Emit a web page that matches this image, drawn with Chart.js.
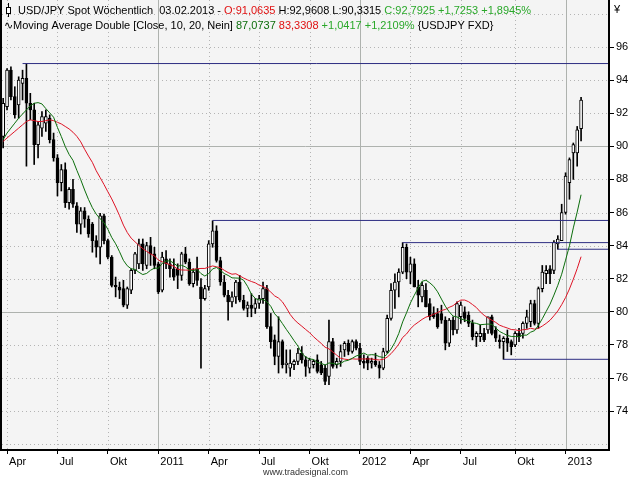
<!DOCTYPE html>
<html>
<head>
<meta charset="utf-8">
<script src="https://cdn.jsdelivr.net/npm/chart.js@4.4.0/dist/chart.umd.min.js"></script>
<style>
  html, body { margin: 0; padding: 0; background: #fff; }
</style>
</head>
<body>
<canvas id="canvas" width="640" height="480"></canvas>
<script>
// weekly bars, bar 0 = week ending 28.03.2010, last bar = 03.02.2013
var firstWeek = '2010-03-28';

var open = [
  90.6, 92.4, 94.6, 93.0, 92.5, 93.8, 94.1, 92.6, 92.2, 90.1,
  91.1, 91.4, 91.7, 90.4, 89.3, 87.8, 88.6, 86.6, 87.4, 86.4,
  85.3, 86.1, 85.6, 85.3, 84.3, 83.9, 85.8, 84.3, 83.3, 81.6,
  81.5, 81.4, 80.4, 81.3, 82.5, 82.9, 84.1, 82.8, 84.0, 83.5,
  82.9, 81.3, 83.2, 82.9, 82.6, 82.6, 82.2, 83.5, 83.0, 81.7,
  82.6, 81.5, 80.8, 81.5, 84.1, 84.9, 83.1, 81.8, 81.0, 80.6,
  80.9, 81.8, 80.7, 80.2, 80.4, 80.2, 80.5, 80.8, 81.4, 79.1,
  78.3, 77.3, 78.2, 76.8, 76.6, 76.8, 77.0, 77.5, 77.1, 76.6,
  76.8, 77.1, 76.8, 76.6, 76.1, 78.2, 76.8, 77.0, 77.7, 78.1,
  77.6, 78.2, 77.8, 77.0, 77.2, 76.9, 77.0, 76.8, 76.6, 77.6,
  79.6, 81.3, 81.8, 82.4, 83.9, 82.4, 82.9, 81.5, 80.9, 81.3,
  80.5, 79.9, 79.9, 79.9, 79.5, 78.1, 79.5, 78.9, 79.7, 80.0,
  79.8, 79.3, 78.5, 78.5, 78.7, 78.9, 79.7, 78.9, 78.3, 78.2,
  78.4, 78.2, 78.0, 78.7, 78.7, 79.3, 79.4, 80.5, 79.3, 81.4,
  82.3, 82.6, 82.5, 84.1, 84.3, 86.0, 87.8, 89.6, 89.6, 91.0635
];
var high = [
  92.9, 94.7, 94.8, 93.6, 94.2, 94.6, 94.99, 93.2, 92.6, 91.5,
  92.1, 92.2, 91.9, 90.8, 89.5, 88.9, 89.0, 87.5, 88.0, 86.6,
  86.3, 86.3, 85.8, 85.4, 84.6, 85.95, 85.9, 84.4, 83.4, 82.1,
  81.8, 81.9, 81.5, 82.6, 83.6, 84.4, 84.4, 84.2, 84.5, 83.9,
  83.0, 83.6, 83.7, 83.2, 83.2, 82.9, 83.6, 83.9, 83.2, 82.6,
  83.3, 82.0, 81.6, 84.3, 85.5, 85.2, 83.3, 82.2, 81.3, 81.2,
  81.9, 82.2, 81.0, 80.6, 81.1, 80.8, 81.0, 81.8, 81.6, 79.9,
  78.6, 79.7, 78.3, 77.7, 77.7, 77.1, 77.8, 77.9, 77.3, 77.2,
  77.1, 77.4, 77.0, 76.8, 79.5, 78.4, 77.2, 78.0, 78.2, 78.3,
  78.3, 78.3, 78.1, 77.4, 77.3, 77.2, 77.5, 77.0, 77.8, 79.8,
  81.7, 82.3, 82.6, 84.18, 84.1, 83.3, 83.2, 81.9, 81.8, 81.7,
  80.8, 80.3, 80.2, 80.4, 79.7, 79.6, 79.7, 80.6, 80.6, 80.3,
  80.0, 79.5, 78.8, 79.2, 79.0, 79.7, 79.8, 79.1, 78.6, 78.5,
  78.9, 78.3, 78.8, 79.0, 79.4, 80.1, 80.7, 80.7, 81.5, 82.8,
  82.8, 82.8, 84.3, 84.6, 86.5, 88.4, 89.3, 90.2, 91.2, 92.9608
];
var low = [
  89.9, 92.2, 92.8, 91.7, 91.7, 92.8, 88.8, 91.6, 88.9, 89.3,
  90.6, 90.9, 90.2, 89.1, 87.0, 87.3, 86.3, 86.2, 86.3, 84.8,
  84.7, 85.1, 84.5, 83.6, 83.3, 82.9, 84.1, 83.2, 81.5, 80.9,
  80.8, 80.3, 80.2, 81.1, 82.3, 82.6, 82.5, 82.6, 82.8, 82.6,
  81.1, 81.2, 82.6, 82.1, 81.9, 81.4, 81.9, 82.9, 81.6, 81.5,
  81.6, 76.6, 80.7, 81.3, 83.9, 83.0, 81.6, 80.9, 79.5, 80.3,
  80.5, 80.6, 80.1, 79.7, 79.7, 79.9, 80.2, 80.5, 79.0, 77.8,
  76.8, 76.3, 76.6, 76.3, 76.1, 76.5, 76.8, 76.9, 76.1, 76.3,
  76.6, 76.3, 76.2, 75.6, 75.6, 76.6, 76.6, 76.7, 77.3, 77.4,
  77.5, 77.7, 76.8, 76.6, 76.5, 76.6, 76.7, 76.0, 76.5, 77.5,
  79.5, 80.2, 80.9, 82.3, 82.0, 81.7, 81.5, 80.3, 80.6, 80.3,
  79.5, 79.6, 79.0, 79.3, 77.7, 77.9, 78.6, 78.7, 79.3, 79.4,
  79.1, 78.3, 77.9, 78.2, 78.2, 78.7, 78.6, 78.2, 77.8, 77.13,
  77.6, 77.4, 77.9, 78.2, 78.4, 79.0, 79.1, 79.2, 79.0, 81.2,
  81.7, 81.7, 82.3, 83.78, 84.3, 85.9, 86.8, 88.0, 88.8, 90.3315
];
var close = [
  92.6, 94.6, 93.0, 91.9, 94.0, 94.1, 92.6, 92.2, 90.1, 91.3,
  91.8, 91.8, 90.4, 89.3, 87.8, 88.6, 86.6, 87.4, 86.5, 85.3,
  86.1, 85.6, 84.7, 84.3, 83.9, 85.8, 84.3, 83.3, 81.6, 81.5,
  81.3, 80.4, 81.4, 82.5, 83.5, 84.1, 82.9, 84.0, 83.5, 82.8,
  81.2, 83.3, 82.9, 82.6, 82.1, 82.2, 83.5, 83.0, 81.7, 82.4,
  81.9, 80.8, 81.4, 84.1, 84.9, 83.1, 81.8, 81.0, 80.6, 80.9,
  81.8, 80.7, 80.2, 80.4, 80.2, 80.5, 80.8, 81.4, 79.1, 78.2,
  77.3, 78.2, 76.8, 76.9, 76.9, 77.0, 77.5, 77.1, 76.7, 77.1,
  77.0, 76.4, 76.3, 75.8, 78.2, 76.7, 77.0, 77.6, 78.1, 77.6,
  78.2, 77.8, 77.0, 76.9, 76.9, 77.0, 76.8, 76.6, 77.6, 79.6,
  81.3, 81.8, 82.4, 83.9, 82.4, 82.9, 81.5, 81.0, 81.6, 80.3,
  79.7, 79.7, 79.1, 79.5, 78.1, 79.5, 78.9, 80.5, 80.4, 79.6,
  79.3, 78.5, 78.7, 78.7, 78.3, 79.7, 78.7, 78.4, 78.2, 78.4,
  78.1, 77.9, 78.7, 78.5, 79.3, 79.7, 80.5, 79.3, 81.4, 82.4,
  82.5, 82.3, 84.2, 84.4, 86.0, 88.2, 89.2, 90.1, 91.0, 92.7925
];

// Moving Average Double [Close, 10, 20]
var ma10 = [
  90.4, 90.8, 91.1, 91.4, 91.7, 91.95, 92.2, 92.45, 92.6, 92.64,
  92.56, 92.28, 92.02, 91.76, 91.14, 90.59, 89.99, 89.51, 89.15, 88.55,
  87.98, 87.36, 86.79, 86.29, 85.90, 85.62, 85.39, 84.98, 84.49, 84.11,
  83.63, 83.11, 82.78, 82.60, 82.56, 82.39, 82.25, 82.32, 82.51, 82.64,
  82.63, 82.92, 83.07, 83.08, 82.94, 82.75, 82.81, 82.71, 82.53, 82.49,
  82.56, 82.31, 82.16, 82.31, 82.59, 82.68, 82.51, 82.31, 82.20, 82.05,
  82.04, 82.03, 81.91, 81.54, 81.07, 80.81, 80.71, 80.75, 80.60, 80.33,
  79.88, 79.63, 79.29, 78.94, 78.61, 78.26, 77.93, 77.50, 77.26, 77.15,
  77.12, 76.94, 76.89, 76.78, 76.91, 76.88, 76.83, 76.88, 77.02, 77.07,
  77.19, 77.33, 77.40, 77.51, 77.38, 77.41, 77.39, 77.29, 77.24, 77.44,
  77.75, 78.15, 78.69, 79.39, 79.94, 80.53, 81.00, 81.44, 81.84, 81.91,
  81.75, 81.54, 81.21, 80.77, 80.34, 80.00, 79.74, 79.69, 79.57, 79.50,
  79.46, 79.34, 79.30, 79.22, 79.24, 79.26, 79.24, 79.03, 78.81, 78.69,
  78.57, 78.51, 78.51, 78.49, 78.59, 78.59, 78.77, 78.86, 79.18, 79.58,
  80.02, 80.46, 81.01, 81.60, 82.27, 83.12, 83.99, 85.07, 86.03, 87.0737
];
var ma20 = [
  90.3, 90.5, 90.7, 90.9, 91.1, 91.3, 91.5, 91.6, 91.55, 91.5,
  91.5, 91.55, 91.6, 91.55, 91.45, 91.35, 91.2, 91.05, 90.85, 90.60,
  90.27, 89.82, 89.41, 89.03, 88.52, 88.11, 87.69, 87.25, 86.82, 86.33,
  85.81, 85.24, 84.79, 84.45, 84.23, 84.01, 83.82, 83.65, 83.50, 83.38,
  83.13, 83.02, 82.93, 82.84, 82.75, 82.57, 82.53, 82.52, 82.52, 82.57,
  82.60, 82.62, 82.62, 82.70, 82.77, 82.72, 82.66, 82.51, 82.37, 82.27,
  82.30, 82.17, 82.04, 81.93, 81.83, 81.75, 81.61, 81.53, 81.40, 81.19,
  80.96, 80.83, 80.60, 80.24, 79.84, 79.54, 79.32, 79.13, 78.93, 78.74,
  78.50, 78.29, 78.09, 77.86, 77.76, 77.57, 77.38, 77.19, 77.14, 77.11,
  77.16, 77.14, 77.15, 77.15, 77.15, 77.15, 77.11, 77.09, 77.13, 77.26,
  77.47, 77.74, 78.05, 78.45, 78.66, 78.97, 79.20, 79.37, 79.54, 79.68,
  79.75, 79.85, 79.95, 80.08, 80.14, 80.27, 80.37, 80.57, 80.71, 80.71,
  80.61, 80.44, 80.26, 80.00, 79.79, 79.63, 79.49, 79.36, 79.19, 79.10,
  79.02, 78.93, 78.91, 78.86, 78.92, 78.93, 79.01, 78.95, 79.00, 79.14,
  79.30, 79.49, 79.76, 80.05, 80.43, 80.86, 81.38, 81.97, 82.61, 83.3308
];

// support / resistance lines: level and the bar they start from
var levelValues = [95.0, 85.52, 84.18, 83.78, 77.13];
var levelStart = [5, 54, 103, 143, 129];

// x axis: first bar of each quarter
var tickBars = [1, 14, 27, 40, 53, 66, 79, 92, 105, 118, 132, 145];
var tickLabels = ['Apr', 'Jul', 'Okt', '2011', 'Apr', 'Jul', 'Okt', '2012', 'Apr', 'Jul', 'Okt', '2013'];
// labelled y ticks and the horizontal grid values
var yTicks = [74, 76, 78, 80, 82, 84, 86, 88, 90, 92, 94, 96];
var yGrid = [72, 74, 76, 78, 80, 82, 84, 86, 88, 90, 92, 94, 96, 98];

var FONT = "'Liberation Sans', Arial, sans-serif";

var wicks = [], bodies = [], bodyFill = [];
for (var i = 0; i < close.length; i++) {
    wicks.push({x: i, y: [low[i], high[i]]});
    bodies.push({x: i, y: [Math.min(open[i], close[i]), Math.max(open[i], close[i])]});
    bodyFill.push(close[i] >= open[i] ? '#ffffff' : '#000000');
}
var ma10Pts = ma10.map(function (v, i) { return {x: i, y: v}; });
var ma20Pts = ma20.map(function (v, i) { return {x: i, y: v}; });

var datasets = [
    {type: 'line', data: ma10Pts, borderColor: '#0c6e0c', borderWidth: 1, pointRadius: 0, order: 0},
    {type: 'line', data: ma20Pts, borderColor: '#de1426', borderWidth: 1, pointRadius: 0, order: 0},
    {type: 'bar', data: bodies, backgroundColor: bodyFill, borderColor: '#000', borderWidth: 1,
        barThickness: 3, grouped: false, order: 1, borderSkipped: false},
    {type: 'bar', data: wicks, backgroundColor: '#000', barThickness: 1, grouped: false, order: 2}
];
levelValues.forEach(function (v, k) {
    datasets.push({type: 'line', data: [{x: levelStart[k], y: v}, {x: 170, y: v}],
        borderColor: '#2d2d82', borderWidth: 1, pointRadius: 0, order: 0});
});

var bgPlugin = {
    id: 'bg',
    beforeDraw: function (chart) {
        var ctx = chart.ctx, a = chart.chartArea;
        ctx.save();
        ctx.fillStyle = '#ffffff';
        ctx.fillRect(0, 0, chart.width, chart.height);
        ctx.fillStyle = '#f4f4f4';
        ctx.fillRect(a.left, a.top, a.right - a.left, a.bottom - a.top);
        ctx.restore();
    }
};

var gridPlugin = {
    id: 'grid',
    beforeDatasetsDraw: function (chart) {
        var ctx = chart.ctx, a = chart.chartArea, x = chart.scales.x, y = chart.scales.y;
        ctx.save();
        ctx.lineWidth = 1;
        function style(solid) {
            if (solid) { ctx.setLineDash([]); ctx.strokeStyle = '#aeb2ae'; }
            else { ctx.setLineDash([1, 3]); ctx.strokeStyle = '#b4b4b4'; }
        }
        yGrid.forEach(function (v) {
            var py = Math.round(y.getPixelForValue(v)) + 0.5;
            style(v % 10 === 0);
            ctx.beginPath(); ctx.moveTo(a.left, py); ctx.lineTo(a.right, py); ctx.stroke();
        });
        x.ticks.forEach(function (t, k) {
            var px = Math.round(x.getPixelForValue(t.value)) + 0.5;
            style(tickLabels[k].length === 4);
            ctx.beginPath(); ctx.moveTo(px, a.top); ctx.lineTo(px, a.bottom); ctx.stroke();
        });
        ctx.restore();
    }
};

function drawSegments(ctx, x, y, segs) {
    segs.forEach(function (s) {
        ctx.fillStyle = s[1];
        ctx.fillText(s[0], x, y);
        x += ctx.measureText(s[0]).width;
    });
}

var frontPlugin = {
    id: 'front',
    afterDraw: function (chart) {
        var ctx = chart.ctx, a = chart.chartArea;
        ctx.save();
        // frame
        ctx.fillStyle = '#000';
        ctx.fillRect(0, 0, 2, a.bottom + 2);
        ctx.fillRect(a.right - 1, 0, 2, a.bottom + 2);
        ctx.fillRect(0, a.bottom, a.right + 1, 2);

        // legend lines
        ctx.font = '11px ' + FONT;
        ctx.textBaseline = 'alphabetic';
        var red = '#e01010', green = '#2aa82a', black = '#000';
        // candle icon
        ctx.strokeStyle = '#000'; ctx.lineWidth = 1;
        ctx.beginPath(); ctx.moveTo(8.5, 3); ctx.lineTo(8.5, 17); ctx.stroke();
        ctx.fillStyle = '#fff';
        ctx.fillRect(6.5, 7.5, 4, 6);
        ctx.strokeRect(6.5, 7.5, 4, 6);
        drawSegments(ctx, 18, 14, [
            ['USD/JPY Spot Wöchentlich  03.02.2013 - ', black],
            ['O:91,0635', red],
            [' H:92,9608 L:90,3315 ', black],
            ['C:92,7925 +1,7253 +1,8945%', green]
        ]);
        drawSegments(ctx, 4, 29, [
            ['∿', black],
            ['Moving Average Double [Close, 10, 20, Nein] ', black],
            ['87,0737', '#0c6e0c'],
            [' 83,3308', red],
            [' +1,0417 +1,2109%', green],
            [' {USDJPY FXD}', black]
        ]);
        ctx.fillStyle = '#000';
        ctx.fillText('¥', 614, 13);
        ctx.restore();
    }
};

var ctx = document.getElementById('canvas').getContext('2d');
new Chart(ctx, {
    type: 'bar',
    data: {datasets: datasets},
    options: {
        responsive: false,
        animation: false,
        events: [],
        layout: {padding: {left: 2, top: 0, right: 0, bottom: 0}},
        plugins: {legend: {display: false}, tooltip: {enabled: false}},
        scales: {
            x: {
                type: 'linear', min: -0.3, max: 156.2, offset: false,
                afterBuildTicks: function (s) { s.ticks = tickBars.map(function (v) { return {value: v}; }); },
                afterFit: function (s) { s.height = 31; s.paddingLeft = 0; s.paddingRight = 0; },
                grid: {offset: false, drawOnChartArea: false, drawTicks: true, tickLength: 5, tickColor: '#000', color: '#000'},
                border: {display: false},
                ticks: {
                    autoSkip: false, maxRotation: 0, align: 'start', labelOffset: 2, padding: 1,
                    color: '#000', font: {family: FONT, size: 11},
                    callback: function (v, k) { return tickLabels[k]; }
                },
                title: {display: true, text: 'www.tradesignal.com', color: '#333',
                    font: {family: FONT, size: 9}, padding: {top: 0, bottom: 2}}
            },
            y: {
                position: 'right', min: 71.71, max: 98.84,
                afterBuildTicks: function (s) { s.ticks = yTicks.map(function (v) { return {value: v}; }); },
                afterFit: function (s) { s.width = 31; s.paddingTop = 0; s.paddingBottom = 0; },
                grid: {drawOnChartArea: false, tickLength: 5, tickColor: '#000'},
                border: {display: false},
                ticks: {
                    padding: 2, color: '#000', font: {family: FONT, size: 11},
                    callback: function (v) { return String(v); }
                }
            }
        }
    },
    plugins: [bgPlugin, gridPlugin, frontPlugin]
});
</script>
</body>
</html>
